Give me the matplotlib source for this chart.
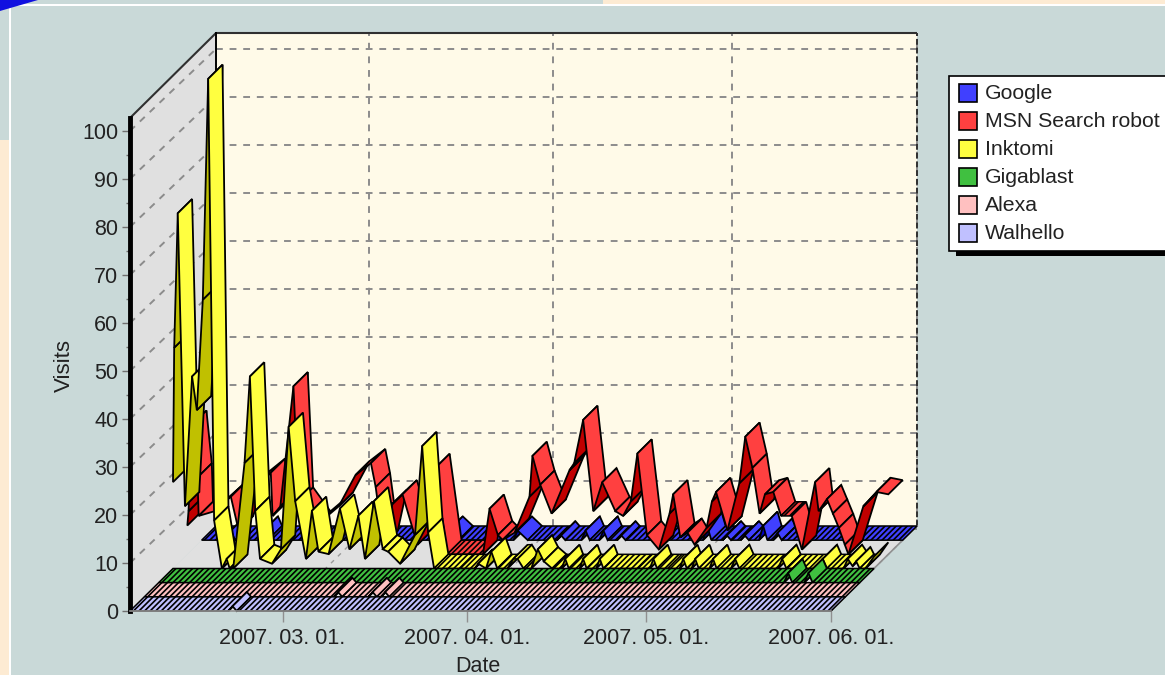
import numpy as np
import matplotlib
matplotlib.use('Agg')
import matplotlib.pyplot as plt
from matplotlib.patches import Polygon, Rectangle

plt.rcParams['font.family'] = ['Liberation Sans', 'DejaVu Sans']
plt.rcParams['hatch.linewidth'] = 1.2

# days counted from 2007-02-01
tick_days = [28, 59, 89, 120]
tick_labels = ['2007. 03. 01.', '2007. 04. 01.', '2007. 05. 01.', '2007. 06. 01.']
first_day = 2.4
last_day = 120.0

walhello_d = [2.4, 18.9, 19.6, 20.3, 120]
walhello_v = [0, 0, 1, 0, 0]

alexa_d = [2.4, 34.2, 34.9, 35.6, 40.0, 40.7, 41.4, 42.1, 42.8, 43.5, 120]
alexa_v = [0, 0, 1, 0, 0, 1, 0, 0, 1, 0, 0]

gigablast_d = [2.4, 107.3, 108, 108.7, 110.7, 111.4, 112.1, 120]
gigablast_v = [0, 0, 2, 0, 0, 2, 0, 0]

inktomi_d = [2.4, 2.6, 3.2, 4.4, 5.6, 6.4, 7.4, 8.3, 9.3, 10.6,
             11.4, 11.9, 12.5, 14.4, 15.3, 16.2, 17.0, 19.0, 20.5, 21.8, 22.9,
             24.7, 25.7, 26.8, 28.5, 30.4, 32.0, 33.5, 34.6, 36.1, 37.6, 38.5, 40.5, 43.0,
             44.2, 45.2, 46.2, 50.6, 53.0, 53.6, 54.9, 55.8, 56.8, 58.5, 59.5, 60.2, 61.2,
             62.5, 63.6, 64.6, 66.0, 67.6, 68.2, 68.8, 70.6, 71.2, 71.8, 73.4, 74.0, 74.6,
             80.4, 82.4, 83.0, 83.6, 85.4, 87.4, 88.0, 88.6, 89.4, 90.0, 90.6, 92.4, 93.0,
             93.6, 96.0, 96.7, 97.4, 103.9, 104.6, 105.3, 110.7, 111.4, 112.1, 114.9, 115.6,
             116.4, 117.0, 117.6, 118.6, 120]
inktomi_v = [18, 46, 74, 13, 40, 33, 56, 102, 10, 0,
             2, 0, 0, 22, 40, 12, 2, 1, 4, 29.5, 14,
             2, 12, 3.5, 3, 12.5, 4, 11, 2, 14, 4, 3.5, 1, 7,
             25.5, 7.5, 0, 0, 0, 1, 0, 3.5, 0, 0, 2, 2, 0,
             0, 4, 1.5, 0, 0, 2, 0, 0, 2, 0, 0, 2, 0,
             0, 0, 2, 0, 0, 0, 2, 0, 0, 2, 0, 0, 2,
             0, 0, 2, 0, 0, 2, 0, 0, 2, 0, 0, 2,
             0.5, 1.5, 0, 0, 2.5]

msn_d = [2.4, 2.6, 3.2, 4.1, 4.3, 7.0, 9.7, 11, 13.9, 16.4, 16.7, 18, 20.2, 21.1,
         24, 27.8, 30.6, 33.2, 34, 35.3, 36.8, 38.5, 41, 44, 46, 52, 53.1, 54.5, 55.3, 57.3,
         59.8, 60.3, 61.6, 63.5, 66.5, 67.3, 68.8, 70.5, 72, 74.2, 75.5, 76.8, 77.9, 79.5, 81.5,
         83.3, 83.9, 85.1, 86.3, 87.5, 89.5, 90.4, 91.1, 93, 95, 96, 97.2, 98.4, 99.3, 100.7, 102,
         103.8, 105.5, 107.7, 108.3, 109.7, 110.7, 111.7, 112.7, 113.3, 115.8, 118, 120]
msn_v = [6, 9, 27, 16, 8, 9, 12, 5, 14.5, 17, 8, 10, 35, 11,
         6, 10, 16.5, 19, 14, 2, 10.5, 12.5, 2, 18, 0, 0, 9.5, 4, 3, 4.5,
         12, 20.5, 14.5, 8.5, 17.5, 19, 28, 9, 15, 9, 8, 11, 21, 4, 1,
         8.5, 12.5, 3.5, 4.5, 2, 5.5, 11, 13, 5, 14.8, 24.5, 18, 8.5, 12.5, 13, 8,
         8, 1, 15, 9, 11.5, 8.5, 5.5, 2, 0, 10, 13, 12.5]

google_d = [2.4, 6.6, 7.3, 8.0, 12.1, 12.8, 13.5, 43.1, 43.8, 45.5, 54.7, 55.4, 57.1,
            62.0, 62.7, 63.4, 66.1, 66.8, 67.5, 69.1, 69.8, 70.5, 72.1, 72.8, 73.5,
            86.5, 87.2, 87.9, 89.8, 90.5, 91.2, 92.8, 93.5, 94.2, 95.9, 96.6, 97.3, 98.3, 99.0, 99.7, 120]
google_v = [0, 0, 2, 0, 0, 2, 0, 0, 2, 0, 0, 2, 0,
            0, 1, 0, 0, 2, 0, 0, 2, 0, 0, 1, 0,
            0, 3, 0, 0, 1, 0, 0, 1, 0, 0, 3, 0, 0, 1.5, 0, 0]

names = ['Google', 'MSN Search robot', 'Inktomi', 'Gigablast', 'Alexa', 'Walhello']
colors = ['#4040FF', '#FF4040', '#FFFF40', '#40C040', '#FFC0C0', '#C0C0FF']
darks = ['#0000C0', '#C00000', '#C0C000', '#209020', '#C09090', '#9090C0']
days = [google_d, msn_d, inktomi_d, gigablast_d, alexa_d, walhello_d]
values = [google_v, msn_v, inktomi_v, gigablast_v, alexa_v, walhello_v]

W, H = 1165, 675
fig = plt.figure(figsize=(W / 100, H / 100), dpi=100, facecolor='#FDEBD3')

panel = '#C9D9D8'
fig.patches.append(Rectangle((0, 1 - 140 / H), 603 / W, 140 / H, transform=fig.transFigure, fc=panel, ec='none'))
fig.patches.append(Rectangle((9 / W, 0), 1 - 9 / W, 1 - 4 / H, transform=fig.transFigure, fc='white', ec='none'))
fig.patches.append(Rectangle((11 / W, 0), 1 - 11 / W, 1 - 6 / H, transform=fig.transFigure, fc=panel, ec='none'))
fig.patches.append(Polygon([(0, 1), (38 / W, 1), (0, 1 - 11 / H)], transform=fig.transFigure, fc='#1010E0', ec='none'))

# front plane of the box is the axes, depth goes up and to the right
ax = fig.add_axes([130 / W, 1 - 611 / H, 701 / W, 493 / H])
ax.set_zorder(2)
ax.set_xlim(first_day, last_day)
ax.set_ylim(0, 102.7)
ax.patch.set_visible(False)

px_x = (last_day - first_day) / 701
px_y = 102.7 / 493
depth_x = 86 * px_x
depth_y = 85 * px_y
grid_y = 82 * px_y
slot_x = depth_x / 6
slot_y = depth_y / 6


def poly(pts, **kw):
    p = Polygon(pts, clip_on=False, **kw)
    ax.add_patch(p)
    return p


# walls and floor
x0, x1 = first_day, last_day
poly([(x0 + depth_x, depth_y), (x1 + depth_x, depth_y), (x1 + depth_x, 102.7 + depth_y), (x0 + depth_x, 102.7 + depth_y)],
     fc='#FFFAE8', ec='none', zorder=1)
poly([(x0, 0), (x0 + depth_x, depth_y), (x0 + depth_x, 102.7 + depth_y), (x0, 102.7)], fc='#E0E0E0', ec='none', zorder=1)
poly([(x0, 0), (x1, 0), (x1 + depth_x, depth_y), (x0 + depth_x, depth_y)], fc='#E0E0E0', ec='none', zorder=1)

grid_kw = dict(color='#8C8C8C', lw=1.4, dashes=(3.5, 3.5), zorder=2, clip_on=False)
for v in range(0, 101, 10):
    if v > 0:
        ax.plot([x0, x0 + depth_x], [v, v + grid_y], **grid_kw)
    ax.plot([x0 + depth_x, x1 + depth_x], [v + grid_y, v + grid_y], **grid_kw)
for d in tick_days:
    ax.plot([d + depth_x, d + depth_x], [depth_y, 102.7 + depth_y], **grid_kw)
    ax.plot([d, d + depth_x], [0, depth_y], color='#9A9A9A', lw=1, dashes=(3, 4), zorder=2, clip_on=False)

edge_kw = dict(color='#303030', lw=1.5, zorder=2.5, clip_on=False, solid_capstyle='butt')
ax.plot([x0, x0 + depth_x, x1 + depth_x], [102.7, 102.7 + depth_y, 102.7 + depth_y], **edge_kw)
ax.plot([x0 + depth_x, x0 + depth_x], [depth_y, 102.7 + depth_y], color='black', lw=1.4, zorder=2.5, clip_on=False)
ax.plot([x1 + depth_x, x1 + depth_x], [depth_y, 102.7 + depth_y], color='#303030', lw=1.4, dashes=(3, 1.5), zorder=2.5, clip_on=False)
ax.plot([x1, x1 + depth_x], [0, depth_y], color='#909090', lw=1.2, zorder=2.5, clip_on=False)

# ribbons, back series first, each one painted from left to right
z = 3.0
for k, (name, c, dk, ds, vs) in enumerate(zip(names, colors, darks, days, values)):
    slot = 5 - k
    ox = slot * slot_x
    oy = slot * slot_y
    for i in range(len(ds) - 1):
        xa, xb = ds[i] + ox, ds[i + 1] + ox
        ya, yb = vs[i] + oy, vs[i + 1] + oy
        pts = [(xa, ya), (xb, yb), (xb + slot_x, yb + slot_y), (xa + slot_x, ya + slot_y)]
        rise_px = (vs[i + 1] - vs[i]) / px_y
        run_px = (ds[i + 1] - ds[i]) / px_x
        if vs[i] == vs[i + 1]:
            poly(pts, fc=c, ec='black', lw=1.1, hatch='//////', zorder=z)
        elif rise_px > run_px:
            poly(pts, fc=dk, ec='black', lw=1.3, zorder=z)
        else:
            poly(pts, fc=c, ec='black', lw=1.3, zorder=z)
        z += 0.001

# axes
for s in ['top', 'right']:
    ax.spines[s].set_visible(False)
ax.spines['left'].set_linewidth(3.5)
ax.spines['left'].set_color('black')
ax.spines['left'].set_zorder(9)
ax.spines['bottom'].set_color('#909090')
ax.spines['bottom'].set_linewidth(1.2)
ax.spines['bottom'].set_zorder(9)
ax.set_yticks(range(0, 101, 10))
ax.set_yticks(range(5, 100, 10), minor=True)
ax.set_xticks(tick_days)
ax.set_xticklabels(tick_labels)
ax.tick_params(axis='y', which='major', length=6, width=1, color='#707070', labelsize=15.5, labelcolor='#222222', pad=2.5)
ax.tick_params(axis='y', which='minor', length=3, width=1, color='#707070')
ax.tick_params(axis='x', which='major', length=8, width=1, color='#909090', labelsize=15.5, labelcolor='#222222', pad=4.5)
ax.set_ylabel('Visits', fontsize=16, color='#222222')
ax.yaxis.set_label_coords(-66 / 701, (611 - 365) / 493)
ax.yaxis.label.set_verticalalignment('center')
ax.set_xlabel('Date', fontsize=15.5, color='#222222')
ax.xaxis.set_label_coords((478 - 130) / 701, -(666 - 611) / 493)
ax.xaxis.label.set_verticalalignment('center')

# legend
fig.patches.append(Rectangle((956 / W, 1 - 256 / H), 1, 175 / H, transform=fig.transFigure, fc='black', ec='none'))
fig.patches.append(Rectangle((948.5 / W, 1 - 250.5 / H), 1, 175 / H, transform=fig.transFigure, fc='white', ec='black', lw=1.2))
for k, (name, c) in enumerate(zip(names, colors)):
    yc = 92.7 + 28 * k
    fig.patches.append(Rectangle((958.5 / W, 1 - (yc + 9) / H), 18 / W, 18 / H, transform=fig.transFigure, fc=c, ec='black', lw=1.2))
    fig.text(985 / W, 1 - (yc + 1) / H, name, fontsize=15.3, color='#222222', va='center', ha='left')

fig.savefig('out.png', dpi=100)
